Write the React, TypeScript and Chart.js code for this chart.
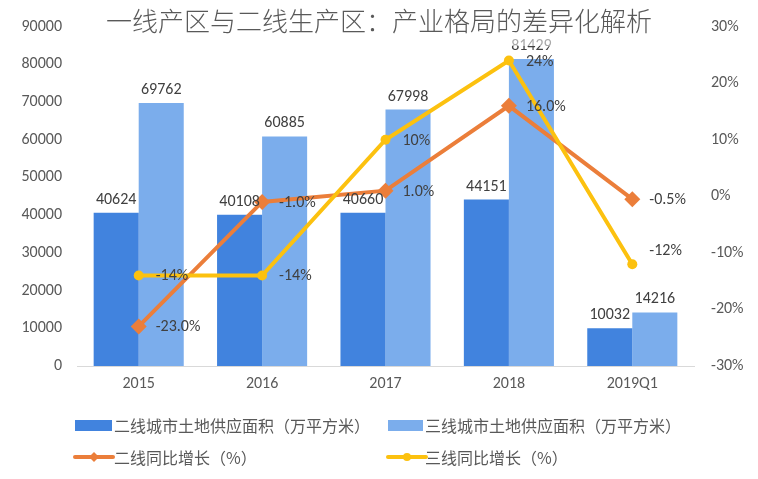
import React, { useEffect, useRef } from "react";
import { Chart, registerables } from "chart.js";

Chart.register(...registerables);

const titleText = "一线产区与二线生产区：产业格局的差异化解析";
const categories = ["2015", "2016", "2017", "2018", "2019Q1"];
const tier2Supply = [40624, 40108, 40660, 44151, 10032];
const tier3Supply = [69762, 60885, 67998, 81429, 14216];
const tier2Growth = [-23.0, -1.0, 1.0, 16.0, -0.5];
const tier3Growth = [-14, -14, 10, 24, -12];
const legendLabels = [
  "二线城市土地供应面积（万平方米）",
  "三线城市土地供应面积（万平方米）",
  "二线同比增长（%）",
  "三线同比增长（%）",
];

const DARK_BLUE = "#4183DE";
const LIGHT_BLUE = "#7BADEC";
const ORANGE = "#EB7E3A";
const YELLOW = "#FCC10F";
const TEXT = "#404040";
const AXIS_TEXT = "#595959";
const NUM_FONT = "Carlito, 'Liberation Sans Narrow', 'Liberation Sans', sans-serif";
const CJK_FONT = "'Noto Sans CJK SC', sans-serif";

const labelPlugin = {
  id: "labels",
  afterDatasetsDraw(chart: any) {
    const ctx = chart.ctx;
    ctx.save();
    ctx.font = `16px ${NUM_FONT}`;
    ctx.fillStyle = TEXT;
    chart.data.datasets.forEach((ds: any, di: number) => {
      const meta = chart.getDatasetMeta(di);
      meta.data.forEach((el: any, i: number) => {
        const v = ds.data[i];
        if (ds.type === "bar") {
          ctx.textAlign = "center";
          ctx.textBaseline = "bottom";
          ctx.fillText(String(v), el.x, el.y - 5);
        } else {
          ctx.textAlign = "left";
          ctx.textBaseline = "middle";
          const txt = ds.decimals ? v.toFixed(1) + "%" : v + "%";
          const dy = ds.labelDy ? ds.labelDy[i] : 0;
          ctx.fillText(txt, el.x + 17, el.y + 1 + dy);
        }
      });
    });
    ctx.restore();
  },
};

const titlePlugin = {
  id: "titleOverlay",
  afterDraw(chart: any) {
    const ctx = chart.ctx;
    ctx.save();
    ctx.font = `300 26px ${CJK_FONT}`;
    const w = ctx.measureText(titleText).width;
    const cx = chart.width / 2;
    ctx.fillStyle = "rgba(255,255,255,0.55)";
    ctx.fillRect(cx - w / 2 - 4, 4, w + 8, 42);
    ctx.fillStyle = AXIS_TEXT;
    ctx.textAlign = "center";
    ctx.textBaseline = "middle";
    ctx.fillText(titleText, cx, 21);
    ctx.restore();
  },
};

export default function App() {
  const ref = useRef<HTMLCanvasElement>(null);
  useEffect(() => {
    if (!ref.current) return;
    const chart = new Chart(ref.current, {
      type: "bar",
      data: {
        labels: categories,
        datasets: [
          {
            type: "line",
            label: legendLabels[3],
            data: tier3Growth,
            yAxisID: "y1",
            borderColor: YELLOW,
            backgroundColor: YELLOW,
            borderWidth: 4,
            pointStyle: "circle",
            pointRadius: 5,
            pointBorderWidth: 0,
            order: 0,
            labelDy: [0, 0, 0, 0, -14],
          } as any,
          {
            type: "line",
            label: legendLabels[2],
            data: tier2Growth,
            yAxisID: "y1",
            borderColor: ORANGE,
            backgroundColor: ORANGE,
            borderWidth: 4,
            pointStyle: "rectRot",
            pointRadius: 8,
            pointBorderWidth: 0,
            order: 1,
            decimals: true,
          } as any,
          {
            type: "bar",
            label: legendLabels[0],
            data: tier2Supply,
            yAxisID: "y",
            backgroundColor: DARK_BLUE,
            categoryPercentage: 0.73,
            barPercentage: 1,
            order: 2,
          } as any,
          {
            type: "bar",
            label: legendLabels[1],
            data: tier3Supply,
            yAxisID: "y",
            backgroundColor: LIGHT_BLUE,
            categoryPercentage: 0.73,
            barPercentage: 1,
            order: 3,
          } as any,
        ],
      },
      options: {
        animation: false,
        responsive: false,
        layout: { padding: { top: 23, bottom: 0, left: 0, right: 0 } },
        plugins: { legend: { display: false }, tooltip: { enabled: false }, title: { display: false } },
        scales: {
          x: {
            grid: { display: false, drawTicks: false },
            border: { display: true, color: "#D9D9D9", width: 1 },
            ticks: { color: AXIS_TEXT, font: { family: NUM_FONT, size: 16 }, padding: 8 },
            afterFit: (s: any) => { s.height = 113; },
          },
          y: {
            position: "left",
            min: 0,
            max: 90000,
            grid: { display: false, drawTicks: false },
            border: { display: false },
            ticks: {
              stepSize: 10000,
              color: AXIS_TEXT,
              font: { family: NUM_FONT, size: 16 },
              padding: 15,
              callback: (v: any) => String(v),
            },
            afterFit: (s: any) => { s.width = 77; },
          },
          y1: {
            position: "right",
            min: -30,
            max: 30,
            grid: { display: false, drawTicks: false },
            border: { display: false },
            ticks: {
              stepSize: 10,
              color: AXIS_TEXT,
              font: { family: NUM_FONT, size: 16 },
              padding: 17,
              callback: (v: any) => v + "%",
            },
            afterFit: (s: any) => { s.width = 64; },
          },
        },
      },
      plugins: [labelPlugin, titlePlugin],
    } as any);
    return () => chart.destroy();
  }, []);

  const textStyle: React.CSSProperties = {
    position: "absolute",
    fontFamily: CJK_FONT,
    fontSize: 16,
    color: AXIS_TEXT,
    lineHeight: "20px",
    whiteSpace: "nowrap",
  };

  return (
    <div style={{ position: "absolute", left: 0, top: 0, width: 758, height: 479, background: "#fff" }}>
      <canvas ref={ref} width={758} height={479} style={{ display: "block" }} />
      <div style={{ position: "absolute", left: 75, top: 420, width: 37, height: 11, background: DARK_BLUE }} />
      <div style={{ ...textStyle, left: 114, top: 415 }}>{legendLabels[0]}</div>
      <div style={{ position: "absolute", left: 388, top: 420, width: 35, height: 11, background: LIGHT_BLUE }} />
      <div style={{ ...textStyle, left: 425, top: 415 }}>{legendLabels[1]}</div>
      <svg style={{ position: "absolute", left: 73, top: 449 }} width={42} height={16}>
        <line x1={2} y1={8} x2={40} y2={8} stroke={ORANGE} strokeWidth={4} strokeLinecap="round" />
        <polygon points="21,3 26,8 21,13 16,8" fill={ORANGE} />
      </svg>
      <div style={{ ...textStyle, left: 114, top: 447 }}>{legendLabels[2]}</div>
      <svg style={{ position: "absolute", left: 386, top: 449 }} width={42} height={16}>
        <line x1={2} y1={8} x2={40} y2={8} stroke={YELLOW} strokeWidth={4} strokeLinecap="round" />
        <circle cx={21} cy={8} r={4} fill={YELLOW} />
      </svg>
      <div style={{ ...textStyle, left: 425, top: 447 }}>{legendLabels[3]}</div>
    </div>
  );
}
